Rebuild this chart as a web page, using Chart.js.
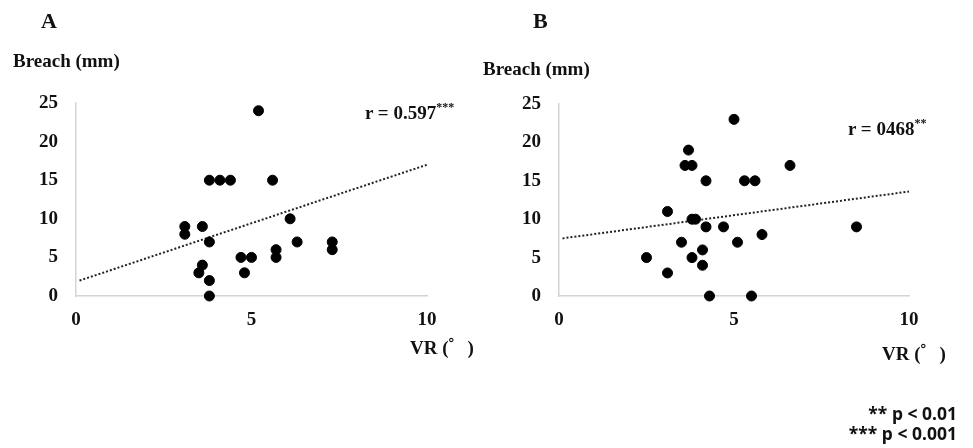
<!DOCTYPE html>
<html>
<head>
<meta charset="utf-8">
<script src="https://cdn.jsdelivr.net/npm/chart.js@4"></script>
<style>
    html, body { margin: 0; padding: 0; background: #fff; }
    #wrap { position: relative; width: 973px; height: 448px; overflow: hidden; }
    canvas { position: absolute; top: 0; }
    .lbl { position: absolute; font-family: "Liberation Serif", "Noto Sans CJK JP", serif; font-weight: bold; line-height: 1; white-space: nowrap; color: #111; }
    .lbl sup { font-size: 12px; vertical-align: 8px; }
    .note { position: absolute; right: 16px; font-family: "Noto Sans", sans-serif; font-weight: bold; font-size: 17.5px; line-height: 20px; text-align: right; color: #111; }
</style>
</head>
<body>
<div id="wrap">
    <canvas id="chartA" width="486" height="448"></canvas>
    <canvas id="chartB" width="487" height="448" style="left:486px"></canvas>

    <div class="lbl" style="left:41px;top:10px;font-size:22px">A</div>
    <div class="lbl" style="left:533px;top:10px;font-size:22px">B</div>
    <div class="lbl" style="left:13px;top:51px;font-size:19px">Breach (mm)</div>
    <div class="lbl" style="left:483px;top:59px;font-size:19px">Breach (mm)</div>
    <div class="lbl" style="left:365px;top:101px;font-size:19px">r = 0.597<sup>***</sup></div>
    <div class="lbl" style="left:848px;top:117px;font-size:19px">r = 0468<sup>**</sup></div>
    <div class="lbl" style="left:410px;top:338px;font-size:19px">VR (゜)</div>
    <div class="lbl" style="left:882px;top:344px;font-size:19px">VR (゜)</div>
    <div class="note" style="top:403px">** p &lt; 0.01<br>*** p &lt; 0.001</div>
</div>
<script>
'use strict';
// axis ranges
const xTicks = [0, 5, 10];
const yTicks = [0, 5, 10, 15, 20, 25];

// panel A: VR vs breach
const vrA =     [5.2, 3.8, 4.1, 4.4, 5.6, 3.1, 3.1, 3.6, 3.8, 3.6, 3.5, 3.8, 3.8, 4.7, 5.0, 4.8, 5.7, 5.7, 6.1, 6.3, 7.3, 7.3];
const breachA = [24,  15,  15,  15,  15,  9,   8,   9,   7,   4,   3,   2,   0,   5,   5,   3,   6,   5,   10,  7,   7,   6];
const trendXA = [0.1, 10];
const trendYA = [2.0, 17.0];

// panel B
const vrB =     [5.0, 3.7, 3.6, 3.8, 6.6, 4.2, 5.3, 5.6, 3.1, 3.8, 3.9, 4.2, 4.7, 8.5, 5.8, 3.5, 5.1, 4.1, 2.5, 3.8, 4.1, 3.1, 4.3, 5.5];
const breachB = [23,  19,  17,  17,  17,  15,  15,  15,  11,  10,  10,  9,   9,   9,   8,   7,   7,   6,   5,   5,   4,   3,   0,   0];
const trendXB = [0.1, 10];
const trendYB = [7.5, 13.6];

const tickFont = { family: 'Liberation Serif', size: 19, weight: 'bold' };
const axisColor = '#d4d4d4';

function toPoints(xs, ys) {
    return xs.map((x, i) => ({ x: x, y: ys[i] }));
}

function makeChart(id, xs, ys, tx, ty, pad) {
    const ctx = document.getElementById(id).getContext('2d');
    return new Chart(ctx, {
        type: 'scatter',
        data: {
            datasets: [{
                data: toPoints(xs, ys),
                backgroundColor: '#000',
                borderColor: '#000',
                pointRadius: 5,
                pointHoverRadius: 5,
                clip: false
            }, {
                data: toPoints(tx, ty),
                showLine: true,
                pointRadius: 0,
                borderColor: '#222',
                borderWidth: 2,
                borderDash: [2, 2],
                clip: false
            }]
        },
        options: {
            responsive: false,
            animation: false,
            layout: { padding: pad },
            plugins: { legend: { display: false }, tooltip: { enabled: false } },
            scales: {
                x: {
                    type: 'linear',
                    min: xTicks[0],
                    max: xTicks[xTicks.length - 1],
                    afterBuildTicks: (s) => { s.ticks = xTicks.map(v => ({ value: v })); },
                    afterFit: (s) => { s.height = 40; },
                    grid: { display: false, drawTicks: false },
                    border: { display: true, color: axisColor, width: 1.5 },
                    ticks: { font: tickFont, color: '#111', padding: 13, maxRotation: 0 }
                },
                y: {
                    type: 'linear',
                    min: yTicks[0],
                    max: yTicks[yTicks.length - 1],
                    afterBuildTicks: (s) => { s.ticks = yTicks.map(v => ({ value: v })); },
                    afterFit: (s) => { s.width = 40; },
                    grid: { display: false, drawTicks: false },
                    border: { display: true, color: axisColor, width: 1.5 },
                    ticks: { font: tickFont, color: '#111', padding: 18 }
                }
            }
        }
    });
}

makeChart('chartA', vrA, breachA, trendXA, trendYA, { left: 36, right: 59, top: 103, bottom: 112 });
makeChart('chartB', vrB, breachB, trendXB, trendYB, { left: 33, right: 64, top: 104, bottom: 112 });
</script>
</body>
</html>
